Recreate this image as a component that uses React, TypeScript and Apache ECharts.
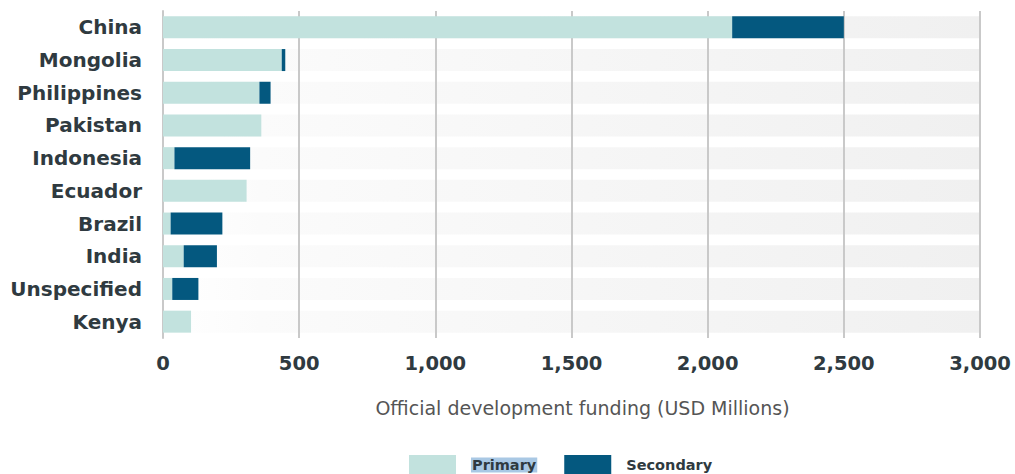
import React, { useEffect, useRef } from "react";
import * as echarts from "echarts";

const categories = ["China", "Mongolia", "Philippines", "Pakistan", "Indonesia", "Ecuador", "Brazil", "India", "Unspecified", "Kenya"];
const primary = [2090, 436, 354, 361, 42, 307, 28, 76, 34, 103];
const secondary = [410, 13, 41, 0, 278, 0, 190, 122, 96, 0];
const xTicks = [0, 500, 1000, 1500, 2000, 2500, 3000];
const axisMax = 3000;
const bandValues = categories.map(() => axisMax);

const FONT = "DejaVu Sans";

export default function App() {
  const ref = useRef<HTMLDivElement>(null);
  useEffect(() => {
    if (!ref.current) return;
    const chart = echarts.init(ref.current, null, { renderer: "svg" });
    chart.setOption({
      animation: false,
      backgroundColor: "#ffffff",
      grid: { left: 163, right: 35, top: 11, bottom: 136, containLabel: false },
      legend: {
        data: ["Primary", "Secondary"],
        left: 404,
        top: 450,
        itemWidth: 47,
        itemHeight: 20,
        itemGap: 27,
        icon: "rect",
        formatter: (name: string) => (name === "Primary" ? "{hl|Primary}" : "{n|Secondary}"),
        textStyle: {
          padding: [0, 0, 0, 10],
          rich: {
            hl: { fontFamily: FONT, fontWeight: "bold", fontSize: 14.5, lineHeight: 14, color: "#2f3a40", backgroundColor: "#a9c8e4", padding: [0, 1, 0, 1] },
            n: { fontFamily: FONT, fontWeight: "bold", fontSize: 14.5, lineHeight: 14, color: "#2f3a40" },
          },
        },
      },
      xAxis: {
        type: "value",
        min: xTicks[0],
        max: axisMax,
        interval: 500,
        z: 2,
        name: "Official development funding (USD Millions)",
        nameLocation: "middle",
        nameGap: 60,
        nameTextStyle: { fontFamily: FONT, fontSize: 19, color: "#555555", padding: [0, 0, 0, 22] },
        axisLine: { show: false },
        axisTick: { show: false },
        splitLine: { show: true, lineStyle: { color: "#c9c9c9", width: 2 } },
        axisLabel: {
          margin: 15,
          fontFamily: FONT,
          fontWeight: "bold",
          fontSize: 19.5,
          color: "#2f3a40",
          formatter: (v: number) => v.toLocaleString("en-US"),
        },
      },
      yAxis: {
        type: "category",
        data: categories,
        inverse: true,
        z: 2,
        axisLine: { show: true, lineStyle: { color: "#c9c9c9", width: 2 } },
        axisTick: { show: false },
        splitLine: { show: false },
        axisLabel: { margin: 21, fontFamily: FONT, fontWeight: "bold", fontSize: 20, color: "#2f3a40" },
      },
      series: [
        {
          name: "band",
          type: "bar",
          stack: "band",
          data: bandValues,
          barWidth: 22,
          barGap: "-100%",
          z: 1,
          silent: true,
          itemStyle: {
            color: new echarts.graphic.LinearGradient(0, 0, 1, 0, [
              { offset: 0, color: "#ffffff" },
              { offset: 0.12, color: "#fbfbfb" },
              { offset: 1, color: "#f0f0f0" },
            ]),
          },
        },
        {
          name: "Primary",
          type: "bar",
          stack: "total",
          data: primary,
          barWidth: 22,
          barGap: "-100%",
          z: 3,
          itemStyle: { color: "#c2e2de" },
        },
        {
          name: "Secondary",
          type: "bar",
          stack: "total",
          data: secondary,
          barWidth: 22,
          barGap: "-100%",
          z: 3,
          itemStyle: { color: "#04587f" },
        },
      ],
    });
    return () => chart.dispose();
  }, []);
  return <div ref={ref} style={{ position: "fixed", left: 0, top: 0, width: 1015, height: 474 }} />;
}
